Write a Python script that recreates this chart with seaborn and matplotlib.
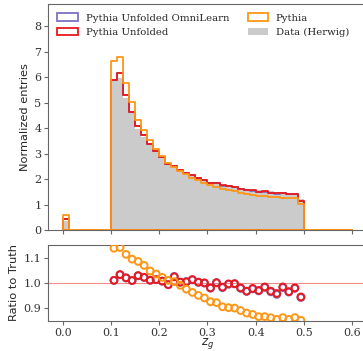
import numpy as np
import pandas as pd
import matplotlib
matplotlib.use("Agg")
import matplotlib.pyplot as plt
from matplotlib.patches import Patch
import seaborn as sns

# Binning of the groomed momentum fraction z_g
bin_edges = [round(0.0125 * i, 4) for i in range(49)]
bin_centers = 0.5 * (np.asarray(bin_edges[:-1]) + np.asarray(bin_edges[1:]))

# Normalized bin contents (bin 0, seven empty bins, 32 bins from 0.1 to 0.5, eight empty bins)
truth_herwig = [0.36] + [0.0] * 7 + [
    5.85, 5.97, 5.19, 4.59, 3.97, 3.66, 3.36, 3.08, 2.84, 2.62, 2.47, 2.35, 2.24, 2.14, 2.05, 1.97,
    1.90, 1.84, 1.78, 1.73, 1.69, 1.65, 1.62, 1.59, 1.56, 1.54, 1.52, 1.50, 1.48, 1.47, 1.46, 1.22,
] + [0.0] * 8

pythia_unfolded = [0.44] + [0.0] * 7 + [
    5.909, 6.167, 5.294, 4.631, 4.085, 3.741, 3.394, 3.120, 2.860, 2.602, 2.529, 2.357, 2.249, 2.168, 2.056, 1.970,
    1.862, 1.840, 1.750, 1.723, 1.685, 1.617, 1.567, 1.555, 1.513, 1.515, 1.470, 1.437, 1.456, 1.419, 1.431, 1.152,
] + [0.0] * 8

pythia_unfolded_omni = [0.44] + [0.0] * 7 + [
    5.905, 6.160, 5.290, 4.634, 4.080, 3.738, 3.396, 3.118, 2.858, 2.600, 2.534, 2.355, 2.252, 2.165, 2.054, 1.968,
    1.860, 1.843, 1.746, 1.720, 1.683, 1.614, 1.565, 1.552, 1.510, 1.512, 1.466, 1.431, 1.452, 1.416, 1.428, 1.149,
] + [0.0] * 8

pythia_gen = [0.58] + [0.0] * 7 + [
    6.651, 6.806, 5.776, 5.021, 4.307, 3.913, 3.518, 3.188, 2.902, 2.646, 2.482, 2.327, 2.184, 2.059, 1.948, 1.852,
    1.758, 1.696, 1.611, 1.560, 1.521, 1.469, 1.426, 1.391, 1.351, 1.334, 1.310, 1.283, 1.276, 1.257, 1.259, 1.039,
] + [0.0] * 8

labels = ["Pythia Unfolded OmniLearn", "Pythia Unfolded", "Pythia", "Data (Herwig)"]
col_omni = "#7b72c4"
col_unf = "#e8191e"
col_pythia = "#ff9616"
col_data = "#cbcbcb"

sns.set_style("ticks")
plt.rcParams["font.family"] = ["DejaVu Serif"]
plt.rcParams["mathtext.fontset"] = "dejavusans"
plt.rcParams["axes.edgecolor"] = "#666666"
plt.rcParams["axes.linewidth"] = 0.8
plt.rcParams["xtick.color"] = "#666666"
plt.rcParams["ytick.color"] = "#666666"
plt.rcParams["xtick.labelcolor"] = "#333333"
plt.rcParams["ytick.labelcolor"] = "#333333"

fig = plt.figure(figsize=(3.63, 3.51), dpi=100)
ax = fig.add_axes([0.133, 0.3447, 0.877, 0.643])
rax = fig.add_axes([0.133, 0.0863, 0.877, 0.2157], sharex=ax)

df = pd.DataFrame({
    "zg": bin_centers,
    "truth": truth_herwig,
    "omni": pythia_unfolded_omni,
    "unf": pythia_unfolded,
    "gen": pythia_gen,
})

# Truth distribution as a filled grey histogram
sns.histplot(data=df, x="zg", weights="truth", bins=bin_edges, element="step", fill=True,
             color=col_data, alpha=1.0, linewidth=0, ax=ax)

# Outlined step histograms
for key, col in [("omni", col_omni), ("unf", col_unf), ("gen", col_pythia)]:
    sns.histplot(data=df, x="zg", weights=key, bins=bin_edges, element="step", fill=True,
                 color=col, facecolor="none", edgecolor=col, linewidth=1.3, ax=ax)

ax.set_xlim(-0.03, 0.63)
ax.set_ylim(0, 8.87)
ax.set_yticks(range(0, 9))
ax.set_xticks(np.round(np.arange(0, 0.61, 0.1), 1))
ax.tick_params(axis="x", labelbottom=False, length=3, width=0.8)
ax.tick_params(axis="y", labelsize=8, length=3, width=0.8, pad=2)
ax.set_xlabel("")
ax.set_ylabel("Normalized entries", family="DejaVu Sans", fontsize=8.2, labelpad=3)
for s in ax.spines.values():
    s.set_visible(True)

handles = [
    Patch(facecolor="none", edgecolor=col_omni, linewidth=1.3),
    Patch(facecolor="none", edgecolor=col_unf, linewidth=1.3),
    Patch(facecolor="none", edgecolor=col_pythia, linewidth=1.3),
    Patch(facecolor=col_data, edgecolor="none"),
]
ax.legend(handles, labels, loc="upper left", ncol=2, frameon=False, fontsize=7.3,
          columnspacing=1.8)

# Ratio panel
truth_arr = np.asarray(truth_herwig)
ratio_df = pd.DataFrame({"zg": bin_centers})
for key, arr in [("omni", pythia_unfolded_omni), ("unf", pythia_unfolded), ("gen", pythia_gen)]:
    arr = np.asarray(arr)
    ratio_df[key] = np.divide(arr, truth_arr, out=np.full_like(arr, np.nan), where=truth_arr > 0)

rax.axhline(1.0, color="#f58a8a", linewidth=0.8, zorder=1)
for key, col in [("omni", col_omni), ("unf", col_unf), ("gen", col_pythia)]:
    sns.scatterplot(data=ratio_df, x="zg", y=key, marker="o", s=24, facecolor="none",
                    edgecolor=col, linewidth=1.4, ax=rax, zorder=3, clip_on=True)

rax.set_ylim(0.85, 1.15)
rax.set_yticks([0.9, 1.0, 1.1])
rax.set_xlim(-0.03, 0.63)
rax.tick_params(axis="both", labelsize=8, length=3, width=0.8, pad=2)
rax.set_ylabel("Ratio to Truth", family="DejaVu Sans", fontsize=8.2, labelpad=3)
rax.set_xlabel("$z_g$", fontsize=8.5, labelpad=-1)
for s in rax.spines.values():
    s.set_visible(True)

fig.savefig("out.png", dpi=100)
